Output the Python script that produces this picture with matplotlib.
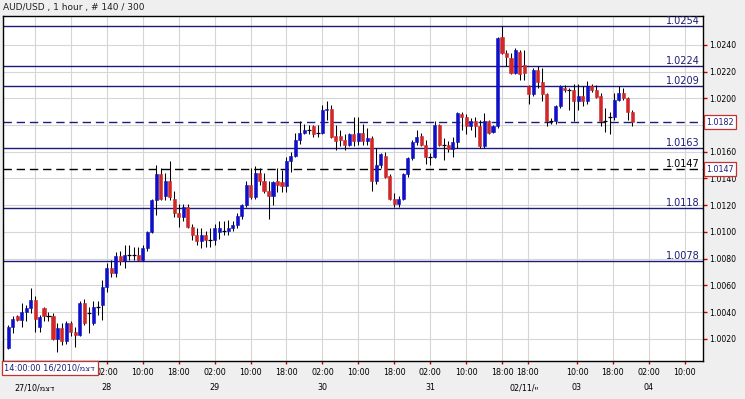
import matplotlib
matplotlib.use("Agg")
import matplotlib.pyplot as plt
import matplotlib.transforms as mtransforms
import numpy as np

# AUD/USD 1 hour candles (140 bars)
opens = [1.0013, 1.0029, 1.0037, 1.0034, 1.0040, 1.0043, 1.0049, 1.0029, 1.0043, 1.0037,
         1.0037, 1.0020, 1.0028, 1.0018, 1.0032, 1.0025, 1.0023, 1.0047, 1.0039, 1.0032,
         1.0044, 1.0045, 1.0059, 1.0073, 1.0069, 1.0082, 1.0078, 1.0083, 1.0083, 1.0083,
         1.0079, 1.0088, 1.0100, 1.0124, 1.0143, 1.0127, 1.0138, 1.0125, 1.0114, 1.0111,
         1.0119, 1.0104, 1.0098, 1.0093, 1.0098, 1.0094, 1.0094, 1.0100, 1.0101, 1.0101,
         1.0103, 1.0105, 1.0112, 1.0120, 1.0135, 1.0126, 1.0144, 1.0138, 1.0131, 1.0127,
         1.0138, 1.0137, 1.0134, 1.0153, 1.0157, 1.0169, 1.0174, 1.0176, 1.0179, 1.0174,
         1.0174, 1.0191, 1.0192, 1.0172, 1.0172, 1.0169, 1.0165, 1.0173, 1.0168, 1.0174,
         1.0168, 1.0170, 1.0138, 1.0150, 1.0157, 1.0142, 1.0125, 1.0121, 1.0125, 1.0143,
         1.0155, 1.0167, 1.0172, 1.0165, 1.0156, 1.0156, 1.0180, 1.0165, 1.0165, 1.0162,
         1.0167, 1.0188, 1.0186, 1.0179, 1.0183, 1.0179, 1.0164, 1.0183, 1.0175, 1.0179,
         1.0246, 1.0234, 1.0230, 1.0219, 1.0235, 1.0225, 1.0209, 1.0203, 1.0221, 1.0212,
         1.0203, 1.0183, 1.0183, 1.0194, 1.0208, 1.0206, 1.0206, 1.0198, 1.0202, 1.0198,
         1.0209, 1.0206, 1.0202, 1.0183, 1.0186, 1.0186, 1.0199, 1.0204, 1.0200, 1.0190]
highs = [1.0030, 1.0037, 1.0038, 1.0047, 1.0045, 1.0058, 1.0052, 1.0038, 1.0044, 1.0040,
         1.0039, 1.0032, 1.0032, 1.0033, 1.0033, 1.0029, 1.0048, 1.0050, 1.0044, 1.0048,
         1.0048, 1.0064, 1.0077, 1.0079, 1.0085, 1.0086, 1.0090, 1.0090, 1.0089, 1.0089,
         1.0090, 1.0101, 1.0125, 1.0150, 1.0148, 1.0144, 1.0153, 1.0131, 1.0121, 1.0121,
         1.0121, 1.0106, 1.0103, 1.0103, 1.0101, 1.0103, 1.0106, 1.0108, 1.0108, 1.0109,
         1.0108, 1.0114, 1.0121, 1.0138, 1.0148, 1.0149, 1.0148, 1.0144, 1.0138, 1.0138,
         1.0148, 1.0146, 1.0156, 1.0160, 1.0174, 1.0183, 1.0181, 1.0180, 1.0180, 1.0180,
         1.0195, 1.0198, 1.0195, 1.0180, 1.0176, 1.0173, 1.0174, 1.0186, 1.0186, 1.0181,
         1.0178, 1.0172, 1.0163, 1.0159, 1.0160, 1.0143, 1.0129, 1.0127, 1.0144, 1.0156,
         1.0169, 1.0176, 1.0174, 1.0169, 1.0159, 1.0183, 1.0181, 1.0170, 1.0168, 1.0171,
         1.0190, 1.0190, 1.0188, 1.0185, 1.0186, 1.0184, 1.0189, 1.0184, 1.0180, 1.0246,
         1.0254, 1.0236, 1.0234, 1.0238, 1.0236, 1.0236, 1.0210, 1.0223, 1.0224, 1.0223,
         1.0204, 1.0185, 1.0195, 1.0210, 1.0210, 1.0208, 1.0211, 1.0211, 1.0209, 1.0213,
         1.0211, 1.0210, 1.0204, 1.0193, 1.0190, 1.0204, 1.0209, 1.0208, 1.0201, 1.0191]
lows = [1.0012, 1.0024, 1.0033, 1.0029, 1.0033, 1.0039, 1.0025, 1.0025, 1.0033, 1.0033,
        1.0019, 1.0010, 1.0015, 1.0016, 1.0022, 1.0014, 1.0022, 1.0030, 1.0024, 1.0030,
        1.0038, 1.0034, 1.0055, 1.0066, 1.0066, 1.0075, 1.0073, 1.0079, 1.0079, 1.0078,
        1.0078, 1.0086, 1.0099, 1.0113, 1.0124, 1.0124, 1.0124, 1.0111, 1.0104, 1.0108,
        1.0103, 1.0094, 1.0090, 1.0088, 1.0089, 1.0089, 1.0090, 1.0095, 1.0098, 1.0098,
        1.0101, 1.0103, 1.0110, 1.0119, 1.0125, 1.0125, 1.0135, 1.0129, 1.0110, 1.0120,
        1.0130, 1.0130, 1.0130, 1.0145, 1.0156, 1.0166, 1.0173, 1.0173, 1.0171, 1.0171,
        1.0173, 1.0184, 1.0170, 1.0161, 1.0164, 1.0161, 1.0164, 1.0164, 1.0165, 1.0165,
        1.0165, 1.0131, 1.0136, 1.0148, 1.0140, 1.0124, 1.0119, 1.0119, 1.0124, 1.0141,
        1.0154, 1.0165, 1.0164, 1.0151, 1.0150, 1.0155, 1.0164, 1.0154, 1.0160, 1.0156,
        1.0163, 1.0176, 1.0173, 1.0176, 1.0171, 1.0163, 1.0163, 1.0173, 1.0174, 1.0178,
        1.0233, 1.0224, 1.0218, 1.0218, 1.0214, 1.0214, 1.0196, 1.0202, 1.0208, 1.0198,
        1.0179, 1.0181, 1.0181, 1.0193, 1.0205, 1.0191, 1.0183, 1.0191, 1.0194, 1.0196,
        1.0205, 1.0200, 1.0179, 1.0175, 1.0173, 1.0184, 1.0198, 1.0199, 1.0184, 1.0179]
closes = [1.0029, 1.0035, 1.0034, 1.0040, 1.0043, 1.0049, 1.0035, 1.0036, 1.0037, 1.0037,
          1.0020, 1.0028, 1.0018, 1.0032, 1.0025, 1.0023, 1.0047, 1.0032, 1.0039, 1.0044,
          1.0044, 1.0059, 1.0073, 1.0069, 1.0082, 1.0078, 1.0083, 1.0083, 1.0083, 1.0079,
          1.0088, 1.0100, 1.0124, 1.0143, 1.0125, 1.0138, 1.0126, 1.0114, 1.0111, 1.0119,
          1.0104, 1.0098, 1.0093, 1.0098, 1.0094, 1.0094, 1.0103, 1.0103, 1.0101, 1.0103,
          1.0105, 1.0112, 1.0120, 1.0135, 1.0126, 1.0144, 1.0138, 1.0131, 1.0127, 1.0137,
          1.0135, 1.0134, 1.0153, 1.0157, 1.0169, 1.0174, 1.0176, 1.0176, 1.0173, 1.0174,
          1.0191, 1.0192, 1.0171, 1.0168, 1.0169, 1.0165, 1.0173, 1.0168, 1.0174, 1.0168,
          1.0170, 1.0138, 1.0150, 1.0158, 1.0141, 1.0125, 1.0121, 1.0125, 1.0143, 1.0155,
          1.0167, 1.0171, 1.0165, 1.0156, 1.0156, 1.0180, 1.0165, 1.0165, 1.0162, 1.0167,
          1.0189, 1.0186, 1.0179, 1.0183, 1.0179, 1.0164, 1.0183, 1.0174, 1.0179, 1.0245,
          1.0234, 1.0231, 1.0219, 1.0236, 1.0218, 1.0219, 1.0203, 1.0221, 1.0212, 1.0203,
          1.0183, 1.0183, 1.0194, 1.0209, 1.0206, 1.0206, 1.0198, 1.0202, 1.0198, 1.0209,
          1.0206, 1.0201, 1.0183, 1.0183, 1.0186, 1.0199, 1.0204, 1.0200, 1.0190, 1.0182]

# horizontal levels drawn on the chart
solid_levels = [1.0254, 1.0224, 1.0209, 1.0163, 1.0118, 1.0078]
last_price = 1.0182
marker_level = 1.0147

# time axis (bar index -> label); the first two hour labels sit under the cursor box
tick_pos = [6, 14, 22, 30, 38, 46, 54, 62, 70, 78, 86, 94, 102, 110, 115.7, 126.7, 134.7, 142.7, 150.7]
tick_lab = ["", "", "02:00", "10:00", "18:00", "02:00", "10:00", "18:00", "02:00",
            "10:00", "18:00", "02:00", "10:00", "18:00", "18:00", "10:00", "18:00", "02:00", "10:00"]
day_pos = [6, 22, 46, 70, 94, 115, 126.7, 142.7]
day_lab = ["27/10/מצד", "28", "29", "30", "31", "02/11/יי", "03", "04"]
price_ticks = np.round(np.arange(1.0020, 1.0241, 0.0020), 4)
# 1.0180 is hidden by the last-price box in the original
price_lab = ["" if abs(v - 1.0180) < 1e-6 else f"{v:.4f}" for v in price_ticks]

BLUE = "#1010c8"
RED = "#d02828"
NAVY = "#1c1c78"
TICKRED = "#cc0000"

plt.rcParams["font.family"] = ["DejaVu Sans"]

fig = plt.figure(figsize=(7.45, 3.99), dpi=100, facecolor="#efefef")
ax = fig.add_axes([2.7 / 745, 38 / 399, 700 / 745, 345 / 399])
ax.set_facecolor("white")

xs = np.arange(len(opens))
o = np.array(opens)
h = np.array(highs)
l = np.array(lows)
c = np.array(closes)

# wicks
ax.vlines(xs, l, h, color="black", lw=0.75, zorder=3)

# bodies
up = c > o
down = c < o
flat = c == o
ax.bar(xs[up], (c - o)[up], bottom=o[up], width=0.68, color=BLUE, edgecolor=BLUE, lw=0.4, zorder=4)
ax.bar(xs[down], (o - c)[down], bottom=c[down], width=0.68, color=RED, edgecolor=RED, lw=0.4, zorder=4)
ax.hlines(c[flat], xs[flat] - 0.45, xs[flat] + 0.45, color="black", lw=0.9, zorder=4)

# level lines
lbl_tr = mtransforms.blended_transform_factory(ax.transAxes, ax.transData)
for lv in solid_levels:
    ax.axhline(lv, color=NAVY, lw=1.0, zorder=2)
    ax.text(0.996, lv, f"{lv:.4f}", transform=lbl_tr, ha="right", va="bottom",
            color=NAVY, fontsize=7, zorder=5)
ax.axhline(last_price, color=NAVY, lw=1.0, ls=(0, (6, 3.5)), zorder=2)
ax.axhline(marker_level, color="black", lw=1.0, ls=(0, (6, 3.5)), zorder=2)
ax.text(0.996, marker_level, f"{marker_level:.4f}", transform=lbl_tr, ha="right", va="bottom",
        color="black", fontsize=7, zorder=5)

# boxed prices on the right scale
for lv in [last_price, marker_level]:
    ax.text(1.005, lv, f"{lv:.4f}", transform=lbl_tr, ha="left", va="center",
            color=NAVY, fontsize=5.8, zorder=6, clip_on=False,
            bbox=dict(boxstyle="square,pad=0.3", fc="white", ec="#c83030", lw=0.9))

# axes, ticks, grid
ax.set_xlim(-1.2, 154.7)
ax.set_ylim(1.00033, 1.02617)
ax.set_xticks(tick_pos)
ax.set_xticklabels(tick_lab)
ax.set_yticks(price_ticks)
ax.set_yticklabels(price_lab)
ax.yaxis.tick_right()
ax.grid(True, color="#d6d6d6", lw=0.8, zorder=0)
ax.set_axisbelow(True)
ax.tick_params(axis="y", colors=TICKRED, labelcolor="black", length=3, width=1,
               pad=1.5, labelsize=5.6)
ax.tick_params(axis="x", colors=TICKRED, labelcolor="black", length=2.5, width=1,
               pad=2.5, labelsize=5.8)
for sp in ax.spines.values():
    sp.set_color("black")
    sp.set_linewidth(1.0)

# day labels under the hour labels
day_tr = ax.get_xaxis_transform()
for p, t in zip(day_pos, day_lab):
    ax.text(p, -0.078, t, transform=day_tr, ha="center", va="center",
            fontsize=5.8, color="black", clip_on=False)

# title and cursor time box
fig.text(3 / 745, 1 - 7.5 / 399, "AUD/USD , 1 hour , # 140 / 300", ha="left", va="center",
         fontsize=6.5, color="#202020")
fig.text(4.5 / 745, 1 - 368 / 399, "14:00:00 16/2010/מצד", ha="left", va="center",
         fontsize=5.9, color=NAVY, zorder=10,
         bbox=dict(boxstyle="square,pad=0.35", fc="white", ec="#c83030", lw=0.9))

fig.savefig("out.png", dpi=100, facecolor=fig.get_facecolor())
